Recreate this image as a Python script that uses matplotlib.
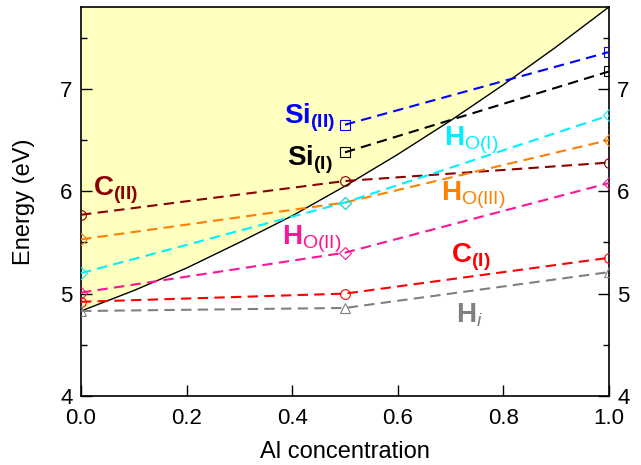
import matplotlib
matplotlib.use("Agg")
import matplotlib.pyplot as plt
from matplotlib.ticker import MultipleLocator

plt.rcParams['font.family'] = ['Liberation Sans', 'DejaVu Sans']
plt.rcParams['mathtext.fontset'] = 'custom'
plt.rcParams['mathtext.rm'] = 'Liberation Sans'
plt.rcParams['mathtext.bf'] = 'Liberation Sans:bold'
plt.rcParams['mathtext.it'] = 'Liberation Sans:italic'

# Al concentration grid of the calculated points
x_all = [0.0, 0.5, 1.0]
x_si = [0.5, 1.0]

# Transition levels (eV)
si_II = [6.65, 7.36]
si_I = [6.38, 7.17]
h_o_I = [5.20, 5.89, 6.74]
h_o_III = [5.53, 5.89, 6.50]
c_II = [5.77, 6.10, 6.28]
h_o_II = [5.01, 5.40, 6.08]
c_I = [4.92, 5.00, 5.35]
h_i = [4.83, 4.86, 5.21]

# Boundary (band edge) curve
edge_x = [0.0, 0.1, 0.2, 0.3, 0.4, 0.5, 0.6, 0.7, 0.8, 0.9, 1.0]
edge_y = [4.83, 5.03, 5.25, 5.50, 5.76, 6.05, 6.36, 6.69, 7.04, 7.41, 7.80]

fig = plt.figure(figsize=(6.41, 4.65), dpi=100)
ax = fig.add_axes([0.1264, 0.1484, 0.8236, 0.8366])

ymin, ymax = 4.0, 7.8
ax.fill_between(edge_x, edge_y, ymax, color='#FFFFC0', lw=0, zorder=0)
ax.plot(edge_x, edge_y, color='black', lw=1.0, zorder=2)

series = [
    (x_si, si_II, '#0000FF', 's'),
    (x_si, si_I, '#000000', 's'),
    (x_all, c_II, '#8B0000', 'o'),
    (x_all, h_o_III, '#FF8000', 'D'),
    (x_all, h_o_I, '#00F0FF', 'D'),
    (x_all, h_o_II, '#FF1493', 'D'),
    (x_all, c_I, '#FF0000', 'o'),
    (x_all, h_i, '#808080', '^'),
]
for xs, ys, col, mk in series:
    ms = {'s': 6.5, 'o': 7.0, '^': 7.0, 'D': 6.5}[mk]
    ax.plot(xs, ys, color=col, lw=1.5, dashes=(5, 3), marker=mk,
            markersize=ms, markerfacecolor='none', markeredgecolor=col,
            markeredgewidth=0.8, zorder=3)

lab_kw = dict(fontsize=20, va='center', ha='left', zorder=4)
ax.text(0.385, 6.72, r'$\mathbf{Si_{(II)}}$', color='#0000FF', **lab_kw)
ax.text(0.390, 6.31, r'$\mathbf{Si_{(I)}}$', color='#000000', **lab_kw)
ax.text(0.022, 6.01, r'$\mathbf{C_{(II)}}$', color='#8B0000', **lab_kw)
ax.text(0.688, 6.50, r'$\mathbf{H}_{\mathrm{O(I)}}$', color='#00F0FF', **lab_kw)
ax.text(0.682, 5.96, r'$\mathbf{H}_{\mathrm{O(III)}}$', color='#FF8000', **lab_kw)
ax.text(0.381, 5.53, r'$\mathbf{H}_{\mathrm{O(II)}}$', color='#FF1493', **lab_kw)
ax.text(0.700, 5.35, r'$\mathbf{C_{(I)}}$', color='#FF0000', **lab_kw)
ax.text(0.711, 4.79, r'$\mathbf{H}_{\mathit{i}}$', color='#808080', **lab_kw)

ax.set_xlim(0, 1)
ax.set_ylim(ymin, ymax)
ax.set_xticks([0, 0.2, 0.4, 0.6, 0.8, 1.0])
ax.set_xticklabels(['0.0', '0.2', '0.4', '0.6', '0.8', '1.0'])
ax.yaxis.set_major_locator(MultipleLocator(1))
ax.yaxis.set_minor_locator(MultipleLocator(0.5))
ax.tick_params(axis='both', which='major', direction='in', length=8,
               width=1, labelsize=16, pad=6)
ax.tick_params(axis='y', which='both', left=True, right=True,
               labelleft=True, labelright=True)
ax.tick_params(axis='y', which='minor', direction='in', length=4, width=1)
ax.tick_params(axis='x', which='both', top=False, pad=9)
for s in ax.spines.values():
    s.set_linewidth(1.2)

ax.set_xlabel('Al concentration', fontsize=17, labelpad=8)
ax.set_ylabel('Energy (eV)', fontsize=17, labelpad=18)

fig.savefig('out.png', dpi=100)
